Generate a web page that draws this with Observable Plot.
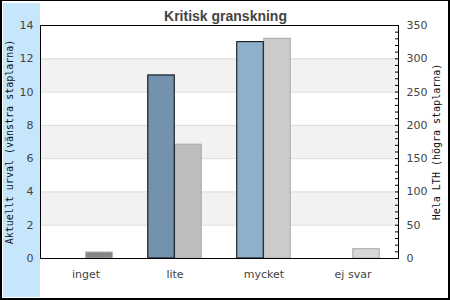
<!DOCTYPE html>
<html><head><meta charset="utf-8">
<script src="https://cdn.jsdelivr.net/npm/d3@7"></script>
<script src="https://cdn.jsdelivr.net/npm/@observablehq/plot@0.6"></script>
<style>
body{margin:0;background:#fff;position:relative;width:450px;height:300px;overflow:hidden}
#border{position:absolute;left:0;top:0;width:450px;height:300px;box-sizing:border-box;border:2px solid #000;border-top-width:1px}
#band{position:absolute;left:3px;top:3px;width:37px;height:294px;background:#c6e6fc}
#chart{position:absolute;left:0;top:0}
</style></head>
<body>
<div id="border"></div>
<div id="band"></div>
<div id="chart"></div>
<script>
const categories = ["inget", "lite", "mycket", "ej svar"];
const leftValues = [0, 11, 13, 0];
const rightValues = [9, 171, 330, 14];
const leftTicks = [0, 2, 4, 6, 8, 10, 12, 14];
const rightTicks = [0, 50, 100, 150, 200, 250, 300, 350];
const title = "Kritisk granskning";
const leftLabel = "Aktuellt urval (vänstra staplarna)";
const rightLabel = "Hela LTH (högra staplarna)";

const leftFill = ["#7292ad", "#7292ad", "#8fb0cb", "#8fb0cb"];
const rightFill = ["#858585", "#bdbdbd", "#cbcbcb", "#d8d8d8"];

const leftMax = leftTicks[leftTicks.length - 1];
const rightMax = rightTicks[rightTicks.length - 1];
const ratio = rightMax / leftMax;
const leftData = categories.map((c, i) => ({c, v: leftValues[i], i}));
const rightData = categories.map((c, i) => ({c, v: rightValues[i], i}));
const bands = leftTicks.filter((t, i) => i % 2 === 1 && i < leftTicks.length - 1)
  .map(t => ({y1: t, y2: leftTicks[leftTicks.indexOf(t) + 1]}));
const minor = d3.range(0, rightMax + 1, 10).map(v => v / ratio);

const chart = Plot.plot({
  width: 450, height: 300,
  marginLeft: 40, marginRight: 52, marginTop: 25, marginBottom: 42,
  style: {background: "transparent", fontFamily: "DejaVu Sans, sans-serif", fontSize: "11px", color: "#444"},
  x: {domain: categories, padding: 0},
  y: {domain: [0, leftMax]},
  marks: [
    Plot.rect(bands, {y1: "y1", y2: "y2", fill: "#f2f2f2"}),
    Plot.gridY(leftTicks.slice(1, -1), {stroke: "#dcdcdc", strokeOpacity: 1}),
    Plot.barY(rightData, {x: "c", y: d => d.v / ratio, fill: d => rightFill[d.i], stroke: "#a9a9a9", insetLeft: 44.75, insetRight: 17.75}),
    Plot.barY(leftData.filter(d => d.v > 0), {x: "c", y: "v", fill: d => leftFill[d.i], stroke: "black", insetLeft: 17.75, insetRight: 44.75}),
    Plot.frame({stroke: "black", strokeWidth: 1}),
    Plot.axisX({tickSize: 0, tickPadding: 12, label: null, fill: "#444"}),
    Plot.axisY(leftTicks, {anchor: "left", tickSize: 0, tickPadding: 7, label: null, fill: "#444"}),
    Plot.axisY(rightTicks.map(v => v / ratio), {anchor: "right", tickSize: 0, tickPadding: 8, label: null, tickFormat: d => Math.round(d * ratio), fill: "#444"}),
    Plot.axisY(minor, {anchor: "right", tickSize: 4, insetRight: 4, fill: "none", label: null, stroke: "black"}),
    Plot.text([title], {frameAnchor: "top", dx: 6, dy: -14.5, fontWeight: "bold", fontSize: 14, fontFamily: "Liberation Sans, Arial, sans-serif", fill: "#444"}),
    Plot.text([leftLabel], {frameAnchor: "left", textAnchor: "middle", dx: -31, rotate: -90, fontFamily: "DejaVu Sans Mono, monospace", fontSize: 10, fill: "#111"}),
    Plot.text([rightLabel], {frameAnchor: "right", textAnchor: "middle", dx: 38, rotate: -90, fontFamily: "DejaVu Sans Mono, monospace", fontSize: 10, fill: "#111"})
  ]
});
document.getElementById("chart").appendChild(chart);
</script>
</body></html>
